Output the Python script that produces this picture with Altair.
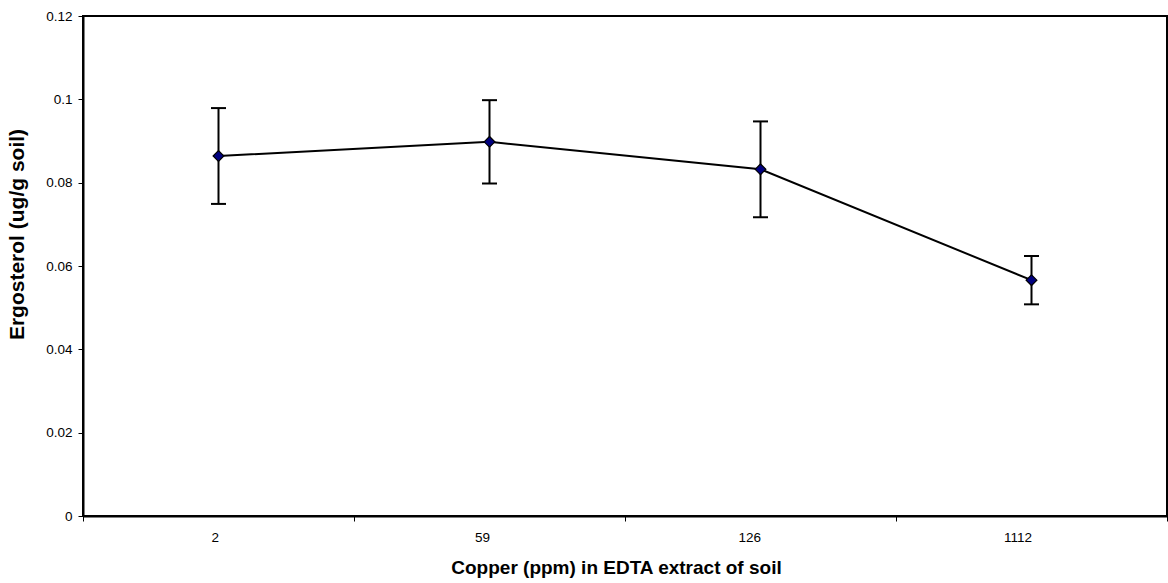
import altair as alt
import pandas as pd

# Copper level (ppm, EDTA extract) and mean ergosterol with its error
copper = ["2", "59", "126", "1112"]
ergosterol = [0.0864, 0.0898, 0.0832, 0.0566]
error = [0.0115, 0.0100, 0.0115, 0.0058]

df = pd.DataFrame({"copper": copper, "ergosterol": ergosterol, "err": error})
df["lo"] = df["ergosterol"] - df["err"]
df["hi"] = df["ergosterol"] + df["err"]

FONT = "Liberation Sans"

x_enc = alt.X(
    "copper:N",
    sort=copper,
    scale=alt.Scale(paddingInner=0, paddingOuter=0),
    axis=alt.Axis(
        title="Copper (ppm) in EDTA extract of soil",
        labelAngle=0,
        tickBand="extent",
        tickSize=5,
        labelPadding=16,
        titlePadding=15,
        titleFontSize=19,
        titleX=533,
    ),
)
y_scale = alt.Scale(domain=[0, 0.12], nice=False)
y_axis = alt.Axis(
    title="Ergosterol (ug/g soil)",
    values=[0, 0.02, 0.04, 0.06, 0.08, 0.1, 0.12],
    labelExpr="format(datum.value, '~g')",
    tickSize=5,
    labelPadding=6,
    titlePadding=18,
    titleFontSize=21,
    titleY=218,
)

base = alt.Chart(df)

line = base.mark_line(color="black", strokeWidth=2).encode(
    x=x_enc, y=alt.Y("ergosterol:Q", scale=y_scale, axis=y_axis)
)
bars = base.mark_rule(color="black", strokeWidth=2).encode(
    x=alt.X("copper:N", sort=copper), y="lo:Q", y2="hi:Q"
)
cap_lo = base.mark_tick(color="black", thickness=2, size=15, opacity=1).encode(
    x=alt.X("copper:N", sort=copper), y="lo:Q"
)
cap_hi = base.mark_tick(color="black", thickness=2, size=15, opacity=1).encode(
    x=alt.X("copper:N", sort=copper), y="hi:Q"
)
points = base.mark_point(
    shape="diamond", filled=True, fill="#000080", stroke="black",
    strokeWidth=1.2, size=115, opacity=1,
).encode(x=alt.X("copper:N", sort=copper), y="ergosterol:Q")

chart = (
    alt.layer(bars, cap_lo, cap_hi, line, points)
    .properties(
        width=1084,
        height=500,
        autosize=alt.AutoSizeParams(type="none"),
        padding={"left": 83, "top": 16, "right": 1, "bottom": 67},
        background="white",
    )
    .configure_view(stroke="black", strokeWidth=2)
    .configure_axis(
        domainColor="black",
        domainWidth=2,
        tickColor="black",
        tickWidth=1,
        grid=False,
        labelFont=FONT,
        labelFontSize=13.5,
        labelColor="black",
        titleFont=FONT,
        titleFontWeight="bold",
        titleColor="black",
    )
)

chart.save("out.html", embed_options={"renderer": "svg", "actions": False})
